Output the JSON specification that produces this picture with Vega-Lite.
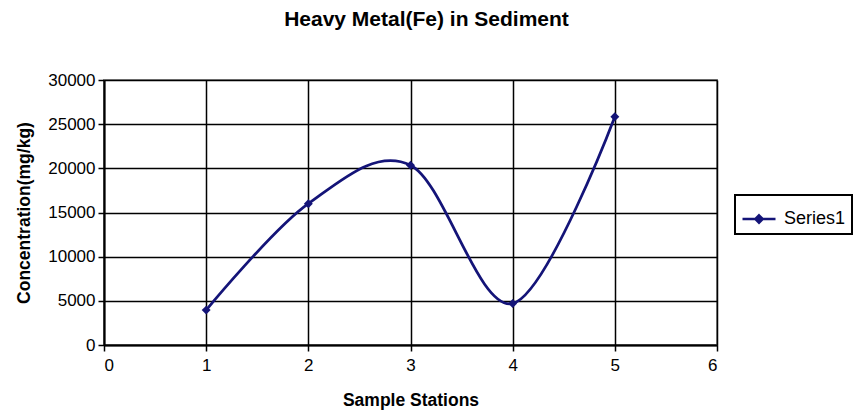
{
  "$schema": "https://vega.github.io/schema/vega-lite/v6.json",
  "width": 613,
  "height": 265,
  "autosize": "none",
  "padding": {"left": 104, "top": 80, "right": 142, "bottom": 69},
  "background": "white",
  "title": {
    "text": "Heavy Metal(Fe) in Sediment",
    "font": "Liberation Sans",
    "fontSize": 21,
    "fontWeight": "bold",
    "color": "black",
    "anchor": "middle",
    "offset": 41,
    "dx": 16
  },
  "config": {
    "view": {"stroke": "#8c8c8c", "strokeWidth": 2},
    "axis": {
      "labelFont": "Liberation Sans",
      "labelFontSize": 17,
      "labelColor": "black",
      "titleFont": "Liberation Sans",
      "titleFontSize": 17.5,
      "titleFontWeight": "bold",
      "titleColor": "black",
      "domainColor": "black",
      "domainWidth": 2,
      "tickColor": "black",
      "tickWidth": 1.5,
      "tickSize": 6,
      "gridColor": "black",
      "gridWidth": 1.5,
      "gridOpacity": 1
    }
  },
  "data": {
    "values": [
      {"station": 1, "conc": 3950, "series": "Series1"},
      {"station": 2, "conc": 16000, "series": "Series1"},
      {"station": 3, "conc": 20350, "series": "Series1"},
      {"station": 4, "conc": 4700, "series": "Series1"},
      {"station": 5, "conc": 25850, "series": "Series1"}
    ]
  },
  "encoding": {
    "x": {
      "field": "station",
      "type": "quantitative",
      "scale": {"domain": [0, 6], "nice": false},
      "axis": {"values": [0, 1, 2, 3, 4, 5, 6], "format": "d", "title": "Sample Stations", "labelPadding": 6, "titlePadding": 18}
    },
    "y": {
      "field": "conc",
      "type": "quantitative",
      "scale": {"domain": [0, 30000], "nice": false},
      "axis": {"values": [0, 5000, 10000, 15000, 20000, 25000, 30000], "format": "d", "title": "Concentration(mg/kg)", "labelPadding": 3, "titlePadding": 14}
    },
    "color": {
      "field": "series",
      "type": "nominal",
      "scale": {"range": ["#141478"]},
      "legend": {
        "title": null,
        "orient": "none",
        "legendX": 631,
        "legendY": 115,
        "strokeColor": "black",
        "padding": 6,
        "labelFont": "Liberation Sans",
        "labelFontSize": 18,
        "labelColor": "black",
        "labelOffset": 7,
        "symbolType": "M-1,0H1M0,-0.22L0.22,0L0,0.22L-0.22,0Z",
        "symbolSize": 1089,
        "symbolStrokeWidth": 2.5,
        "symbolFillColor": "#141478",
        "symbolStrokeColor": "#141478",
        "encode": {"legend": {"update": {"strokeWidth": {"value": 2}}}}
      }
    }
  },
  "layer": [
    {
      "mark": {"type": "line", "interpolate": "cardinal", "tension": 0, "strokeWidth": 2.75}
    },
    {
      "mark": {"type": "point", "shape": "diamond", "filled": true, "size": 80, "opacity": 1}
    }
  ]
}
